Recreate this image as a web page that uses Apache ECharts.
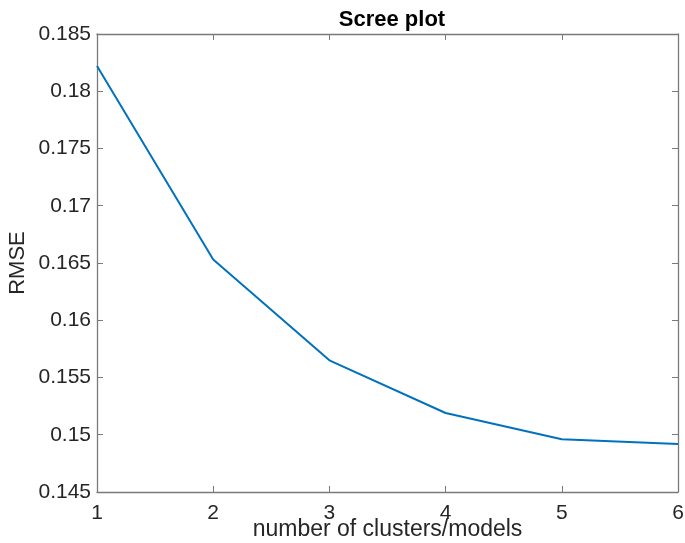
<!DOCTYPE html>
<html><head><meta charset="utf-8">
<script src="https://cdn.jsdelivr.net/npm/echarts@6/dist/echarts.min.js"></script>
<style>html,body{margin:0;padding:0;background:#fff}#c{width:685px;height:543px}</style>
</head><body><div id="c"></div>
<script>
const clusters = [1, 2, 3, 4, 5, 6];
const rmse = [0.1822, 0.1653, 0.1565, 0.1519, 0.1496, 0.1492];
const yTicks = [0.145, 0.15, 0.155, 0.16, 0.165, 0.17, 0.175, 0.18, 0.185];

const chart = echarts.init(document.getElementById('c'));
const font = 'Helvetica, "Liberation Sans", Arial, sans-serif';
const axisColor = '#7a7a7a';
const txt = '#262626';
const common = {
  axisLine: {show: true, lineStyle: {color: axisColor, width: 1.3}},
  axisTick: {show: true, inside: true, length: 6, lineStyle: {color: axisColor, width: 1}},
  splitLine: {show: false}
};
chart.setOption({
  animation: false,
  title: {text: 'Scree plot', left: 387, top: 4, textAlign: 'center',
    textStyle: {fontFamily: font, fontSize: 22, fontWeight: 'bold', color: '#000'}},
  grid: {left: 97, right: 7, top: 34, bottom: 51, containLabel: false, outerBoundsMode: 'none'},
  xAxis: [
    Object.assign({type: 'value', min: 1, max: 6, interval: 1, position: 'bottom',
      name: 'number of clusters/models', nameLocation: 'middle', nameGap: 26, nameMoveOverlap: false,
      nameTextStyle: {fontFamily: font, fontSize: 23, color: txt},
      axisLabel: {fontFamily: font, fontSize: 21, color: txt, margin: 11}}, common),
    Object.assign({type: 'value', min: 1, max: 6, interval: 1, position: 'top',
      axisLabel: {show: false}}, common)
  ],
  yAxis: [
    Object.assign({type: 'value', min: 0.145, max: 0.185, interval: 0.005, position: 'left',
      name: 'RMSE', nameLocation: 'middle', nameGap: 68, nameMoveOverlap: false,
      nameTextStyle: {fontFamily: font, fontSize: 22, color: txt},
      axisLabel: {fontFamily: font, fontSize: 21, color: txt, margin: 6,
        formatter: v => { const t = yTicks.find(k => Math.abs(k - v) < 1e-9); return t !== undefined ? String(t) : ''; }}}, common),
    Object.assign({type: 'value', min: 0.145, max: 0.185, interval: 0.005, position: 'right',
      axisLabel: {show: false}}, common)
  ],
  series: [{
    type: 'line', data: clusters.map((c, i) => [c, rmse[i]]),
    showSymbol: false, symbol: 'none',
    lineStyle: {color: '#0072BD', width: 2}
  }]
});
</script></body></html>
